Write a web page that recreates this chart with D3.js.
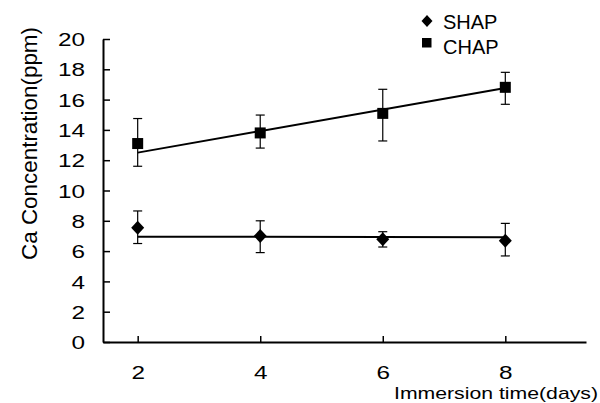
<!DOCTYPE html>
<html>
<head>
<meta charset="utf-8">
<script src="https://cdn.jsdelivr.net/npm/d3@7"></script>
<style>
  body { margin: 0; background: #fff; }
  svg { display: block; font-family: "Liberation Sans", Arial, sans-serif; }
</style>
</head>
<body>
<div class="chart-container"></div>
<script>
// values
let days = [2, 4, 6, 8];
let shapMean = [7.54, 7.0, 6.78, 6.69];
let shapHigh = [8.65, 8.0, 7.28, 7.83];
let shapLow = [6.5, 5.9, 6.27, 5.68];
let chapMean = [13.1, 13.8, 15.09, 16.81];
let chapHigh = [14.75, 14.98, 16.68, 17.8];
let chapLow = [11.6, 12.8, 13.27, 15.69];
// fitted lines, value at first and last day
let fitDays = [2, 8];
let shapFit = [6.95, 6.92];
let chapFit = [12.5, 16.77];
let yTicks = [0, 2, 4, 6, 8, 10, 12, 14, 16, 18, 20];
let xTicks = [2, 4, 6, 8];
let legendNames = ["SHAP", "CHAP"];

let w = 600;
let h = 403;
let stretch = 1.28; // the scanned text is wider than normal

let svg = d3.select(".chart-container").append("svg")
  .attr("width", w)
  .attr("height", h);

let xScale = d3.scaleLinear().domain([1.434, 9.317]).range([103, 586]);
let yScale = d3.scaleLinear().domain([0, 20]).range([342, 39]);

// axes
let xAxis = d3.axisBottom(xScale).tickValues(xTicks).tickSize(-6).tickSizeOuter(0).tickFormat(d3.format("d"));
let gx = svg.append("g")
  .attr("transform", `translate(0, ${yScale(0)})`)
  .call(xAxis);
gx.select(".domain").attr("stroke-width", 2);
gx.selectAll(".tick line").attr("stroke-width", 1.5);
gx.selectAll(".tick text")
  .attr("y", 0).attr("dy", 0)
  .attr("transform", `translate(0, 37) scale(${stretch}, 1)`)
  .attr("font-size", 19).attr("fill", "#000");

let yAxis = d3.axisLeft(yScale).tickValues(yTicks).tickSize(-7).tickSizeOuter(0);
let gy = svg.append("g")
  .attr("transform", `translate(${xScale.range()[0]}, 0)`)
  .call(yAxis);
gy.select(".domain").attr("stroke-width", 2);
gy.selectAll(".tick line").attr("stroke-width", 1.5);
gy.selectAll(".tick text")
  .attr("x", 0).attr("dy", "0.35em")
  .attr("transform", `translate(-18, 0) scale(${stretch}, 1)`)
  .attr("font-size", 19).attr("fill", "#000");

svg.selectAll("g").attr("font-family", null);

// axis titles
svg.append("text")
  .attr("x", 394).attr("y", 399)
  .attr("font-size", 17)
  .attr("textLength", 204)
  .attr("lengthAdjust", "spacingAndGlyphs")
  .text("Immersion time(days)");

svg.append("text")
  .attr("transform", `translate(37, 143.5) scale(${stretch}, 1) rotate(-90)`)
  .attr("text-anchor", "middle")
  .attr("font-size", 17)
  .attr("textLength", 233)
  .attr("lengthAdjust", "spacingAndGlyphs")
  .text("Ca Concentration(ppm)");

// fit lines
let line = d3.line().x(d => xScale(d[0])).y(d => yScale(d[1]));
[shapFit, chapFit].forEach(fit => {
  svg.append("path")
    .datum(fitDays.map((d, i) => [d, fit[i]]))
    .attr("d", line)
    .attr("fill", "none")
    .attr("stroke", "#000")
    .attr("stroke-width", 2);
});

// error bars
let cap = 4.5;
function errorBars(high, low) {
  let g = svg.append("g").attr("stroke", "#000").attr("stroke-width", 1.2);
  days.forEach((d, i) => {
    let x = xScale(d);
    g.append("line").attr("x1", x).attr("x2", x).attr("y1", yScale(high[i])).attr("y2", yScale(low[i]));
    g.append("line").attr("x1", x - cap).attr("x2", x + cap).attr("y1", yScale(high[i])).attr("y2", yScale(high[i]));
    g.append("line").attr("x1", x - cap).attr("x2", x + cap).attr("y1", yScale(low[i])).attr("y2", yScale(low[i]));
  });
}
errorBars(shapHigh, shapLow);
errorBars(chapHigh, chapLow);

// markers
let diamondPath = "M0,-7L6.5,0L0,7L-6.5,0Z";
svg.selectAll(".shap").data(days).enter().append("path")
  .attr("class", "shap")
  .attr("d", diamondPath)
  .attr("transform", (d, i) => `translate(${xScale(d)}, ${yScale(shapMean[i])})`)
  .attr("fill", "#000");

svg.selectAll(".chap").data(days).enter().append("rect")
  .attr("class", "chap")
  .attr("x", (d, i) => xScale(d) - 5.5)
  .attr("y", (d, i) => yScale(chapMean[i]) - 5.5)
  .attr("width", 11).attr("height", 11)
  .attr("fill", "#000");

// legend
let legend = svg.append("g");
legend.append("path")
  .attr("d", "M0,-6L5.5,0L0,6L-5.5,0Z")
  .attr("transform", "translate(427, 21)")
  .attr("fill", "#000");
legend.append("rect")
  .attr("x", 422).attr("y", 38).attr("width", 9.5).attr("height", 9.5)
  .attr("fill", "#000");
legend.selectAll("text").data(legendNames).enter().append("text")
  .attr("x", 443)
  .attr("y", (d, i) => [28.5, 53.5][i])
  .attr("font-size", 20)
  .text(d => d);
</script>
</body>
</html>
